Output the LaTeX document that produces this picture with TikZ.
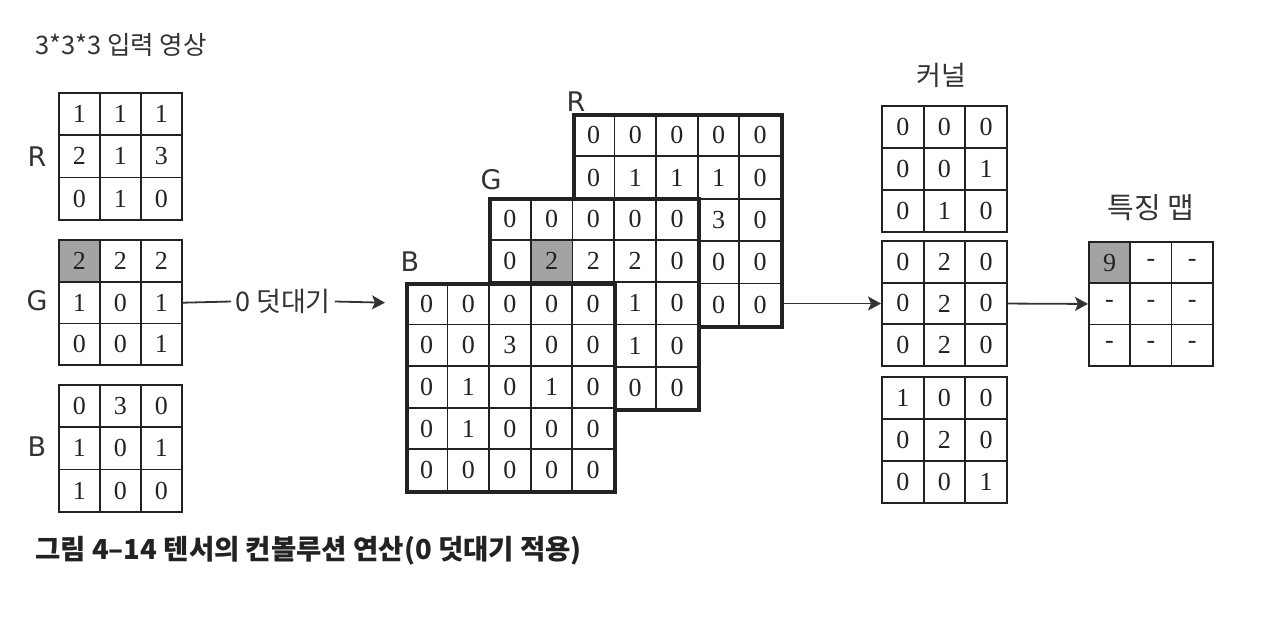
\documentclass[tikz,border=0pt]{standalone}
\usepackage{fontspec}
\setmainfont{Liberation Serif}
\newfontfamily\kr{Noto Sans CJK KR}
\newfontfamily\lab{DejaVu Sans}
\usetikzlibrary{arrows.meta}
\definecolor{ink}{HTML}{222222}
\definecolor{txt}{HTML}{333333}
\definecolor{shade}{HTML}{A3A3A3}
\tikzset{
  cell/.style={draw=ink, line width=1.8pt, fill=white, inner sep=0pt, text=ink,
    font=\fontsize{26}{26}\selectfont},
  thin frame/.style={draw=ink, line width=2pt},
  thick frame/.style={draw=ink, line width=3.8pt},
  chan/.style={text=txt, font=\lab\fontsize{27}{27}\selectfont, inner sep=0pt},
  krtext/.style={text=txt, font=\kr\fontsize{27}{27}\selectfont, inner sep=0pt},
  conn/.style={draw=txt, line width=1.8pt, -{Stealth[length=13pt,width=14pt,inset=3pt]}},
  Gin-1-1/.style={fill=shade},
  Gp-2-2/.style={fill=shade},
  F-1-1/.style={fill=shade},
}
% \mygrid[frame style]{name}{x}{y}{cell w}{cell h}{n}{rows}
\newcommand\mygrid[8][thin frame]{%
  \fill[white] (#3,#4) rectangle ++({#7*#5},{#7*#6});
  \foreach \row [count=\i] in {#8} {
    \foreach \v [count=\j] in \row {
      \node[cell, minimum width=#5pt, minimum height=#6pt, anchor=north west, #2-\i-\j/.try]
        (#2-\i-\j) at ({#3+(\j-1)*#5},{#4+(\i-1)*#6}) {\v};
    }
  }
  \node[#1, minimum width={#7*#5*1pt}, minimum height={#7*#6*1pt}, anchor=north west, inner sep=0pt]
    (#2) at (#3,#4) {};
}
\begin{document}
\begin{tikzpicture}[x=1pt,y=-1pt]
\useasboundingbox[fill=white] (0,0) rectangle (1281,639);

% title
\node[krtext, anchor=west, font=\kr\fontsize{25.5}{25.5}\selectfont] (title) at (35,45) {3*3*3 입력 영상};

% input grids
\mygrid{Rin}{58}{92}{41}{42.3}{3}{{1,1,1},{2,1,3},{0,1,0}}
\mygrid{Gin}{58}{239}{41}{41.8}{3}{{2,2,2},{1,0,1},{0,0,1}}
\mygrid{Bin}{58}{384}{41}{42.3}{3}{{0,3,0},{1,0,1},{1,0,0}}
\node[chan] (lRin) at (37,157) {R};
\node[chan] (lGin) at (37,301) {G};
\node[chan] (lBin) at (37,447) {B};

% padded grids
\mygrid[thick frame]{Rp}{572}{113}{41.6}{42.4}{5}{{0,0,0,0,0},{0,1,1,1,0},{0,2,1,3,0},{0,0,1,0,0},{0,0,0,0,0}}
\mygrid[thick frame]{Gp}{488}{197}{41.8}{42.2}{5}{{0,0,0,0,0},{0,2,2,2,0},{0,1,0,1,0},{0,0,0,1,0},{0,0,0,0,0}}
\mygrid[thick frame]{Bp}{405}{282}{41.6}{41.6}{5}{{0,0,0,0,0},{0,0,3,0,0},{0,1,0,1,0},{0,1,0,0,0},{0,0,0,0,0}}
\node[chan] (lRp) at (576,102) {R};
\node[chan] (lGp) at (491,180) {G};
\node[chan] (lBp) at (410,262) {B};

% kernels
\node[krtext] (lK) at (941,75) {커널};
\mygrid{K1}{881}{105}{41.7}{42}{3}{{0,0,0},{0,0,1},{0,1,0}}
\mygrid{K2}{881}{240}{41.7}{41.7}{3}{{0,2,0},{0,2,0},{0,2,0}}
\mygrid{K3}{881}{376}{41.7}{42}{3}{{1,0,0},{0,2,0},{0,0,1}}

% feature map
\node[krtext, font=\kr\fontsize{29}{29}\selectfont] (lF) at (1151,208) {특징 맵};
\mygrid{F}{1088}{241}{41.3}{41.3}{3}{{9,-,-},{-,-,-},{-,-,-}}

% connectors
\coordinate (padin) at ([xshift=-20pt]Bp.west |- Gin.east);
\node[krtext, fill=white, inner xsep=4pt, font=\kr\fontsize{27}{27}\selectfont] (pad) at (283,301.5) {0 덧대기};
\draw[draw=txt, line width=1.8pt] (Gin.east) -- (pad.west);
\draw[conn] (pad.east) -- (padin);
\draw[conn] (Rp.east |- K2.west) -- (K2.west);
\draw[conn] (K2.east) -- (F.west);

% caption
\node[krtext, anchor=west, font=\kr\bfseries\fontsize{27.5}{27.5}\selectfont, text=ink] (cap) at (35,551) {그림 4–14 텐서의 컨볼루션 연산(0 덧대기 적용)};
\end{tikzpicture}
\end{document}
